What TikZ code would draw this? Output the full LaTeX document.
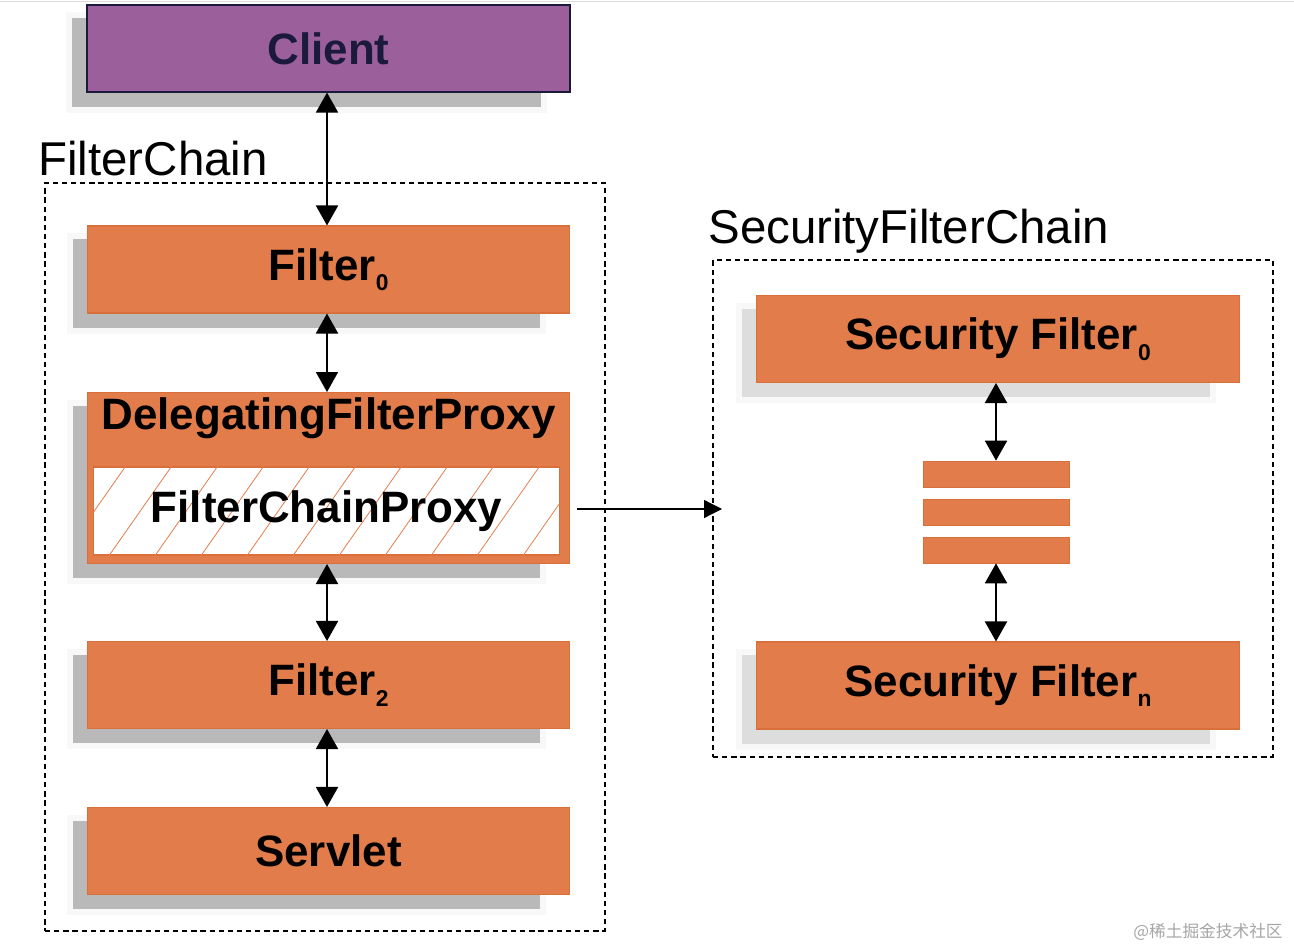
\documentclass[tikz,border=0pt]{standalone}
\usepackage{fontspec}
\setmainfont{Liberation Sans}
\newfontfamily\cjk{Noto Sans CJK SC}
\usetikzlibrary{arrows.meta,calc,backgrounds}
\pgfdeclarelayer{paper}
\pgfsetlayers{paper,background,main}
\definecolor{orng}{HTML}{E27D4B}
\definecolor{orngdk}{HTML}{D9703C}
\definecolor{purp}{HTML}{9B5F9C}
\definecolor{navy}{HTML}{1B1A3C}
\definecolor{shdark}{HTML}{B9B9B9}
\definecolor{shlight}{HTML}{DDDDDD}
\definecolor{halo}{HTML}{F8F8F8}
\newcommand{\sbs}[1]{\raisebox{-0.45ex}{\fontsize{13}{13}\selectfont #1}}
\tikzset{
  box/.style={draw=orngdk, fill=orng, line width=0.6pt, minimum width=9.66cm, minimum height=1.74cm,
    font=\fontsize{25}{29}\selectfont\bfseries, text=black, inner sep=0pt},
  bar/.style={draw=orngdk, fill=orng, line width=0.4pt, minimum width=2.92cm, minimum height=0.52cm, inner sep=0pt},
  dbox/.style={draw=black, dash pattern=on 3pt off 2.2pt, line width=0.9pt, inner sep=0pt},
  lbl/.style={font=\fontsize{27}{31}\selectfont, anchor=base west, inner sep=0pt},
  arr/.style={line width=1.1pt, {Triangle[length=0.4cm,width=0.44cm]}-{Triangle[length=0.4cm,width=0.44cm]}},
  sarr/.style={line width=0.7pt, -{Triangle[length=0.36cm,width=0.36cm]}},
}
\newcommand{\shad}[2]{%
  \begin{scope}[on background layer]
    \fill[halo] ($(#1.north west)+(-20,8)$) rectangle ($(#1.south east)+(-24,20)$);
    \fill[#2] ($(#1.north west)+(-14,14)$) rectangle ($(#1.south east)+(-30,14)$);
  \end{scope}}
\begin{document}
\begin{tikzpicture}[x=0.02cm,y=-0.02cm]
\useasboundingbox (0,0) rectangle (1294,952);
\begin{pgfonlayer}{paper}
\fill[white] (0,0) rectangle (1294,952);
\draw[shlight, line width=0.8pt] (0,1.5) -- (1294,1.5);
\end{pgfonlayer}

% dashed containers
\node[dbox, minimum width=11.2cm, minimum height=14.96cm] (fc) at (325,557) {};
\node[dbox, minimum width=11.2cm, minimum height=9.94cm] (sfc) at (993,508.5) {};
\node[lbl] (fclbl) at (38,176) {FilterChain};
\node[lbl] (sfclbl) at (708,244) {SecurityFilterChain};

% left column
\node[box, draw=navy, fill=purp, text=navy, line width=0.7pt] (client) at (328.5,48.5) {Client};
\shad{client}{shdark}
\node[box] (f0) at (328.5,269.5) {Filter\sbs{0}};
\shad{f0}{shdark}
\node[box, minimum height=3.42cm, anchor=north] (dfp) at (328.5,392) {};
\shad{dfp}{shdark}
\node[font=\fontsize{25}{29}\selectfont\bfseries, inner sep=0pt] (dfplbl) at (328.5,418) {DelegatingFilterProxy};
\node[draw=orngdk, fill=white, line width=0.6pt, minimum width=9.34cm, minimum height=1.76cm, inner sep=0pt] (fcp) at (326.5,511) {};
\begin{scope}
  \clip (fcp.south west) rectangle (fcp.north east);
  \foreach \i in {-2,...,12} {
    \draw[orng, line width=0.45pt] ({60+\i*46},560) -- ({60+\i*46+70},460);
  }
\end{scope}
\node[font=\fontsize{25}{29}\selectfont\bfseries, inner sep=0pt] (fcplbl) at (fcp) {FilterChainProxy};
\node[box] (f2) at (328.5,685) {Filter\sbs{2}};
\shad{f2}{shdark}
\node[box] (servlet) at (328.5,851) {Servlet};
\shad{servlet}{shdark}

% right column
\node[box] (sf0) at (998,339) {Security Filter\sbs{0}};
\shad{sf0}{shlight}
\node[bar] (b1) at (996,474) {};
\node[bar] (b2) at (996,512) {};
\node[bar] (b3) at (996,550) {};
\node[box] (sfn) at (998,685.5) {Security Filter\sbs{n}};
\shad{sfn}{shlight}

% connectors
\draw[arr] (client.south -| 327,0) -- (f0.north -| 327,0);
\draw[arr] (f0.south -| 327,0) -- (dfp.north -| 327,0);
\draw[arr] (dfp.south -| 327,0) -- (f2.north -| 327,0);
\draw[arr] (f2.south -| 327,0) -- (servlet.north -| 327,0);
\draw[arr] (sf0.south -| b1.north) -- (b1.north);
\draw[arr] (b3.south) -- (sfn.north -| b3.south);
\coordinate (sfcin) at (722,509);
\draw[sarr] ($(fcp.east)+(17,-2)$) -- (sfcin);

\node[text=black!35, font=\cjk\fontsize{9.5}{10}\selectfont, inner sep=0pt] (wm) at (1208,932) {@稀土掘金技术社区};
\end{tikzpicture}
\end{document}
